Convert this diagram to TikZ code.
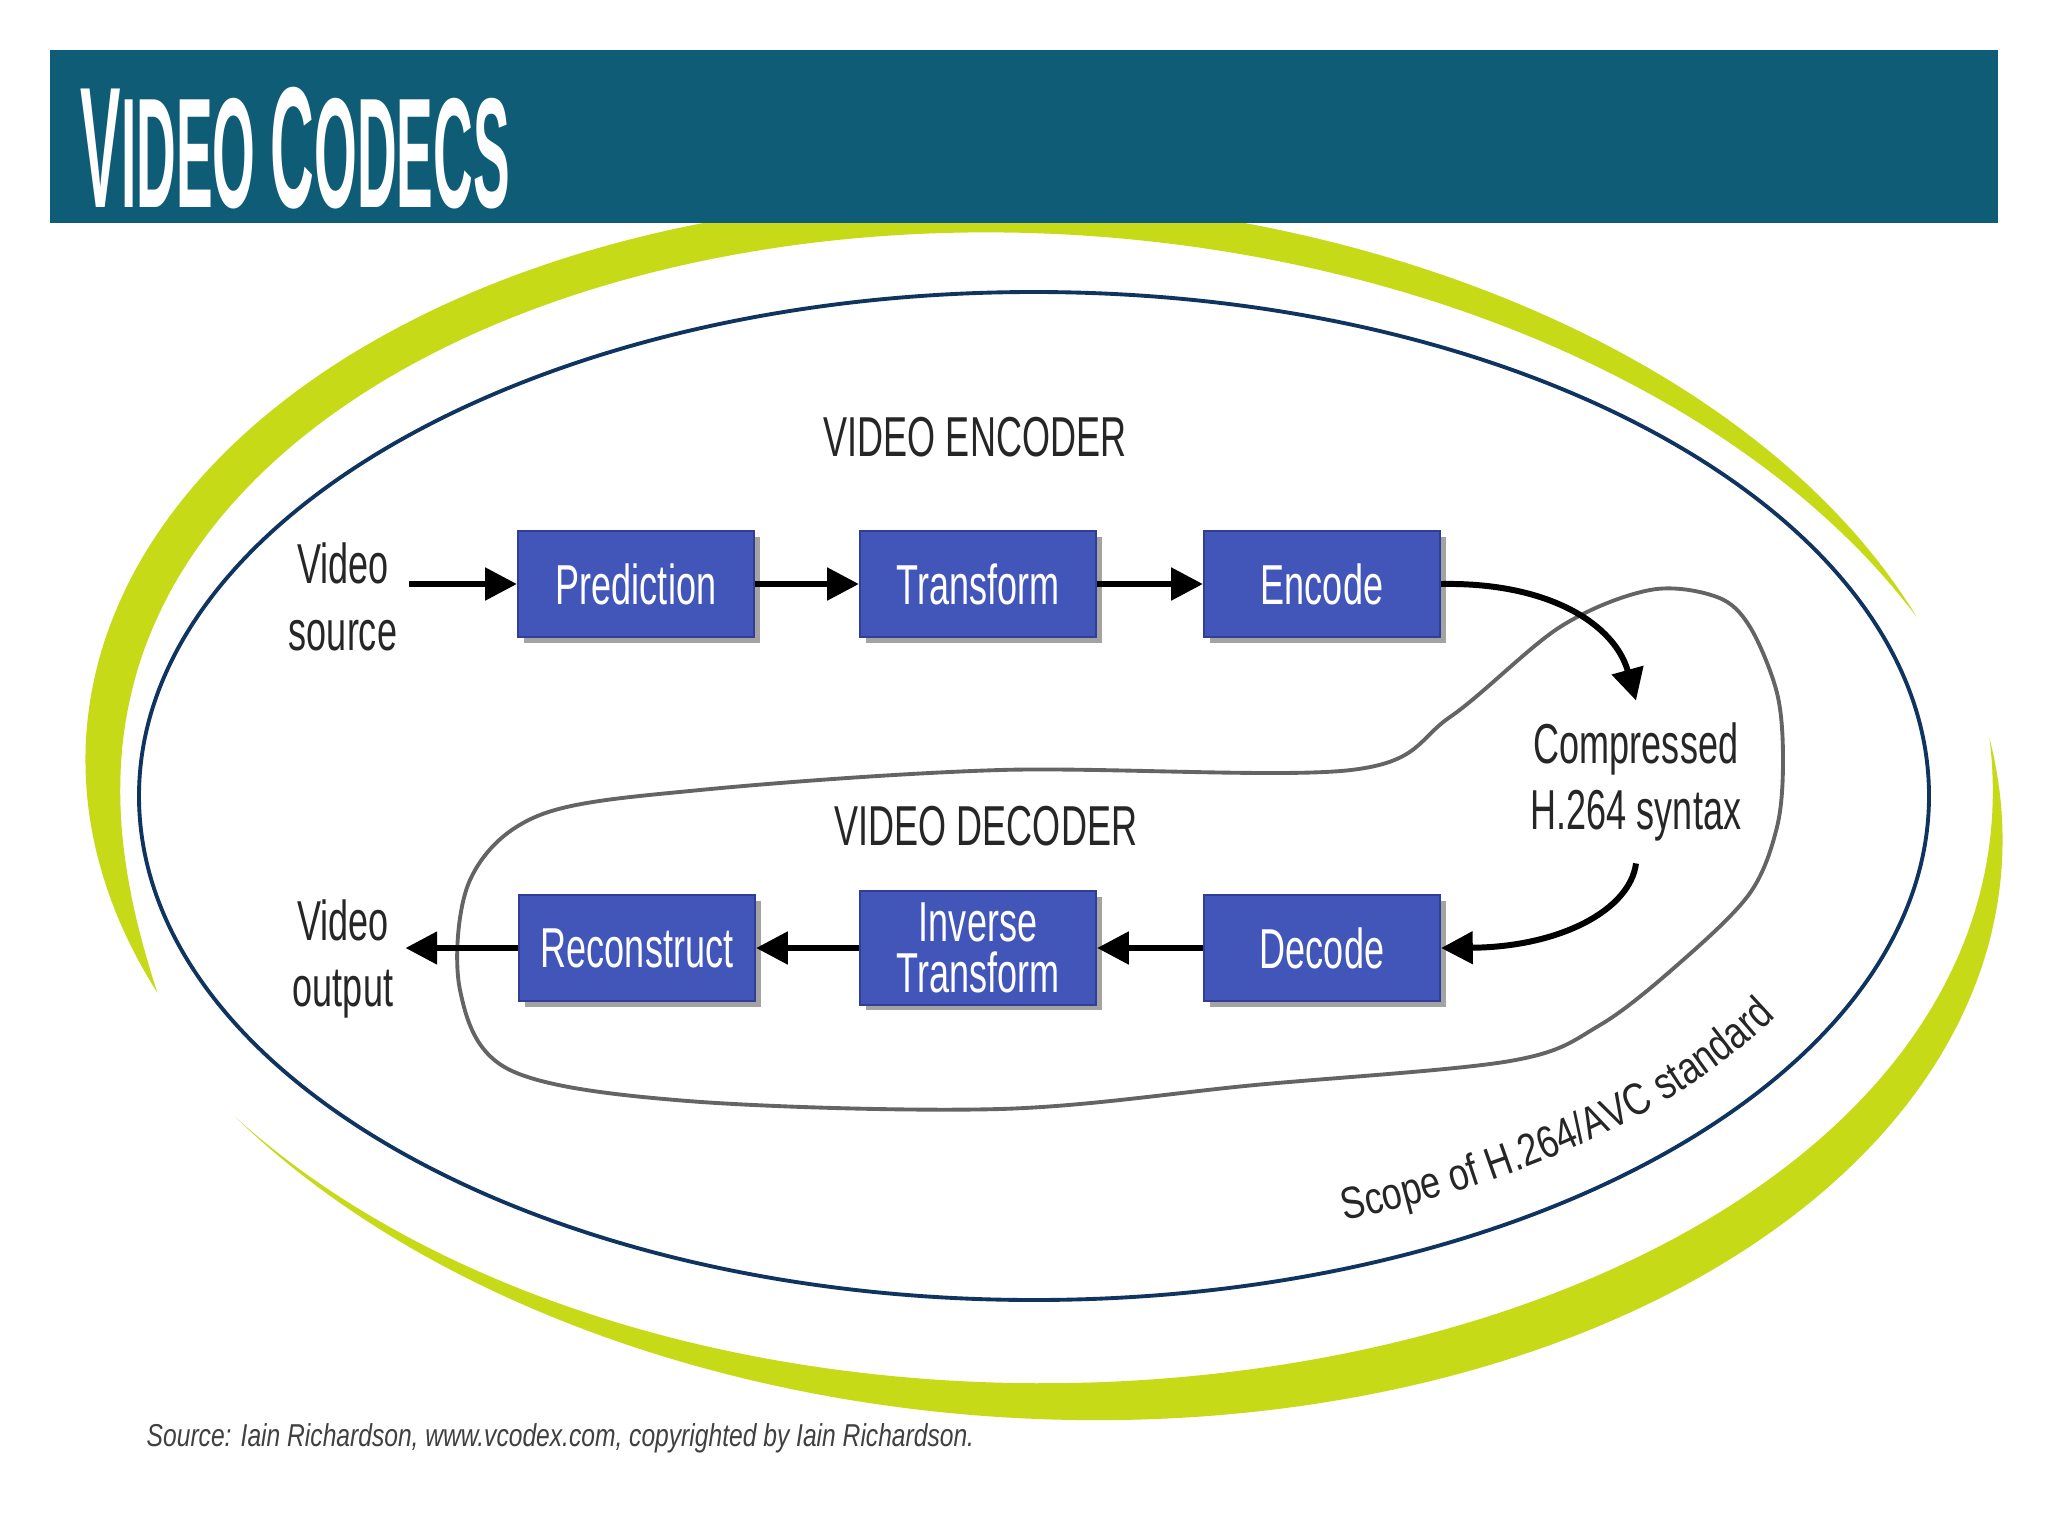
\documentclass[tikz,border=0pt]{standalone}
\usepackage{fontspec}
\usepackage{graphicx}
\setmainfont{Liberation Sans}
\newfontfamily\narrowfont{Liberation Sans}[FakeStretch=0.64]
\newfontfamily\scopefont{Liberation Sans}[FakeStretch=0.8]
\usetikzlibrary{arrows.meta,shadows,decorations.text}
\definecolor{barblue}{RGB}{15,92,118}
\definecolor{lime}{RGB}{198,218,24}
\definecolor{navyline}{RGB}{16,52,96}
\definecolor{boxblue}{RGB}{66,86,186}
\definecolor{boxedge}{RGB}{48,62,150}
\definecolor{loopgray}{RGB}{100,100,100}
\begin{document}
\begin{tikzpicture}[x=0.01cm,y=-0.01cm,
  declare function={
    ex(\a,\r,\s)=1034+\r*cos(\a)*cos(4)-\s*sin(\a)*sin(4);
    ey(\a,\r,\s)=800+\r*cos(\a)*sin(4)+\s*sin(\a)*cos(4);
    uu(\a)=(\a-155)/181;
    qq(\a)=(2*uu(\a)-1)*(2*uu(\a)-1);
    wup(\a)=(44-26*uu(\a)*uu(\a))*(1-qq(\a)*qq(\a)*qq(\a));
    ul(\a)=(\a+12)/155;
    wlo(\a)=46*sin(180*ul(\a))*(1.5-ul(\a));
  },
  box/.style={draw=boxedge, fill=boxblue, line width=0.6pt,
    minimum width=2.36cm, minimum height=1.06cm, text=white, align=center,
    font=\narrowfont\fontsize{16}{14.5}\selectfont,
    drop shadow={shadow xshift=1.6pt, shadow yshift=-1.6pt, fill=black!60, opacity=0.6}},
  lbl/.style={font=\narrowfont\fontsize{16}{19}\selectfont, align=center, text=black!85},
  arr/.style={line width=1.7pt, -{Triangle[length=9pt,width=9pt]}},
  swoosh/.style={fill=lime},
]
\useasboundingbox (0,0) rectangle (2048,1536);
\fill[white] (0,0) rectangle (2048,1536);

% green swooshes (tilted ellipse bands with tapering ends)
\fill[swoosh] plot[domain=155:336, samples=160, variable=\t] ({ex(\t,950,600)},{ey(\t,950,600)})
  -- plot[domain=336:155, samples=160, variable=\t] ({ex(\t,950-wup(\t),600-wup(\t))},{ey(\t,950-wup(\t),600-wup(\t))}) -- cycle;
\fill[swoosh] plot[domain=-12:143, samples=160, variable=\t] ({ex(\t,970,618)},{ey(\t,970,618)})
  -- plot[domain=143:-12, samples=160, variable=\t] ({ex(\t,970-wlo(\t),618-wlo(\t))},{ey(\t,970-wlo(\t),618-wlo(\t))}) -- cycle;

% title bar
\fill[barblue] (50,50) rectangle (1998,223);
\node[anchor=base west, text=white, inner sep=0] (title) at (80,207)
  {\resizebox{4.29cm}{\height}{\bfseries\fontsize{49}{49}\selectfont V\fontsize{44.5}{44.5}\selectfont IDEO\ \fontsize{49}{49}\selectfont C\fontsize{44.5}{44.5}\selectfont ODECS}};

% navy ellipse
\draw[navyline, line width=1.1pt] (1034,796) ellipse [x radius=895, y radius=504];

% gray decoder scope loop
\draw[loopgray, line width=1.1pt] plot[smooth cycle, tension=0.55] coordinates {
  (1000,770) (1351,770) (1450,717) (1560,627) (1650,590) (1717,597) (1750,627)
  (1777,693) (1783,760) (1777,827) (1750,893) (1683,960) (1600,1025) (1510,1061)
  (1255,1085) (1000,1109) (688,1101) (510,1070) (460,990) (470,880) (540,815) (700,790)};

% boxes
\node[box] (pred) at (636,584) {Prediction};
\node[box] (trans) at (978,584) {Transform};
\node[box] (enc) at (1322,584) {Encode};
\node[box] (rec) at (637,948) {Reconstruct};
\node[box] (inv) at (978,948) {Inverse\\Transform};
\node[box] (dec) at (1322,948) {Decode};

% labels
\node[lbl] (vsrc) at (343,597) {Video\\source};
\node[lbl] (vout) at (343,959) {Video\\output};
\node[lbl, inner sep=6pt] (cmp) at (1636,782) {Compressed\\H.264 syntax};
\node[lbl] (enctitle) at (975,437) {VIDEO ENCODER};
\node[lbl] (dectitle) at (986,826) {VIDEO DECODER};

% scope label along the ellipse
\path[decorate, decoration={text along path, text align=center,
    text={|\scopefont\fontsize{12.8}{15}\selectfont\color{black!85}|Scope of H.264/AVC standard}}]
  plot[domain=71:25, samples=60, variable=\t] ({1034+846*cos(\t)},{800+452*sin(\t)});

% arrows
\draw[arr] (vsrc.east |- pred.west) -- (pred.west);
\draw[arr] (pred.east) -- (trans.west);
\draw[arr] (trans.east) -- (enc.west);
\draw[arr] (enc.east) .. controls (1550,582) and (1615,625) .. (cmp.north);
\draw[arr] (cmp.south) .. controls (1630,910) and (1560,947) .. (dec.east);
\draw[arr] (dec.west) -- (inv.east);
\draw[arr] (inv.west) -- (rec.east);
\draw[arr] (rec.west) -- (vout.east |- rec.west);

% footer
\node[anchor=base west, inner sep=0, text=black!75] (src) at (146,1446)
  {\resizebox{8.27cm}{\height}{\fontsize{9}{10}\selectfont\itshape Source: Iain Richardson, www.vcodex.com, copyrighted by Iain Richardson.}};
\end{tikzpicture}
\end{document}
